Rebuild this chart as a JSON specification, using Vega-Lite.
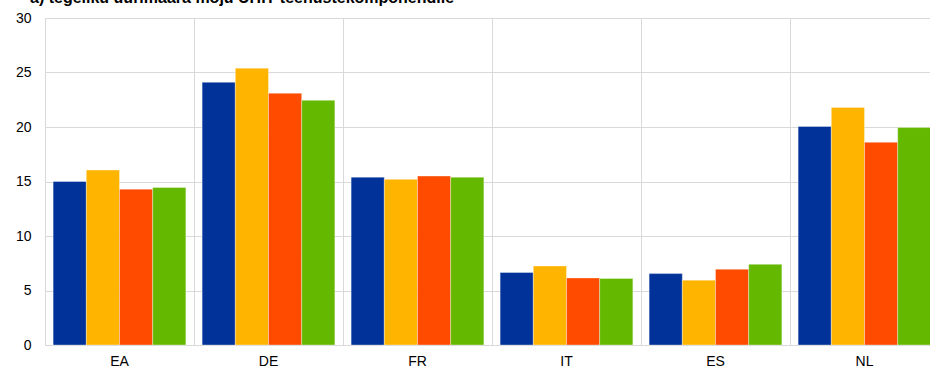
{
  "$schema": "https://vega.github.io/schema/vega-lite/v6.json",
  "autosize": "none",
  "width": 894,
  "height": 327,
  "padding": {"left": 45, "top": 18, "right": 0, "bottom": 24},
  "title": {
    "text": "a) tegeliku üürimäära mõju ÜHIT teenustekomponendile",
    "anchor": "start",
    "frame": "group",
    "dx": -15,
    "offset": 5,
    "font": "Liberation Sans",
    "fontSize": 16,
    "fontWeight": "bold",
    "color": "#000000"
  },
  "data": {
    "values": [
      {"country": "EA", "series": "s1", "value": 15.0},
      {"country": "EA", "series": "s2", "value": 16.05},
      {"country": "EA", "series": "s3", "value": 14.3},
      {"country": "EA", "series": "s4", "value": 14.45},
      {"country": "DE", "series": "s1", "value": 24.1},
      {"country": "DE", "series": "s2", "value": 25.4},
      {"country": "DE", "series": "s3", "value": 23.1},
      {"country": "DE", "series": "s4", "value": 22.45},
      {"country": "FR", "series": "s1", "value": 15.4},
      {"country": "FR", "series": "s2", "value": 15.2},
      {"country": "FR", "series": "s3", "value": 15.5},
      {"country": "FR", "series": "s4", "value": 15.4},
      {"country": "IT", "series": "s1", "value": 6.65},
      {"country": "IT", "series": "s2", "value": 7.25},
      {"country": "IT", "series": "s3", "value": 6.15},
      {"country": "IT", "series": "s4", "value": 6.1},
      {"country": "ES", "series": "s1", "value": 6.55},
      {"country": "ES", "series": "s2", "value": 5.95},
      {"country": "ES", "series": "s3", "value": 6.95},
      {"country": "ES", "series": "s4", "value": 7.4},
      {"country": "NL", "series": "s1", "value": 20.05},
      {"country": "NL", "series": "s2", "value": 21.8},
      {"country": "NL", "series": "s3", "value": 18.6},
      {"country": "NL", "series": "s4", "value": 19.95}
    ]
  },
  "mark": {"type": "bar", "stroke": "#ffffff", "strokeOpacity": 0.35, "strokeWidth": 1},
  "encoding": {
    "x": {
      "field": "country",
      "type": "nominal",
      "sort": ["EA", "DE", "FR", "IT", "ES", "NL"],
      "scale": {"paddingInner": 0, "paddingOuter": 0},
      "axis": {
        "title": null,
        "labelAngle": 0,
        "ticks": false,
        "grid": true,
        "bandPosition": 0,
        "gridColor": "#d9d9d9",
        "domainColor": "#d9d9d9",
        "labelFont": "Liberation Sans",
        "labelFontSize": 14,
        "labelColor": "#000000",
        "labelPadding": 9
      }
    },
    "xOffset": {
      "field": "series",
      "type": "nominal",
      "scale": {"paddingInner": 0, "paddingOuter": 0.245}
    },
    "y": {
      "field": "value",
      "type": "quantitative",
      "scale": {"domain": [0, 30], "nice": false},
      "axis": {
        "title": null,
        "values": [0, 5, 10, 15, 20, 25, 30],
        "ticks": false,
        "gridColor": "#d9d9d9",
        "domainColor": "#d9d9d9",
        "labelFont": "Liberation Sans",
        "labelFontSize": 14,
        "labelColor": "#000000",
        "labelPadding": 14
      }
    },
    "color": {
      "field": "series",
      "type": "nominal",
      "scale": {"domain": ["s1", "s2", "s3", "s4"], "range": ["#003299", "#FFB400", "#FF4B00", "#65B800"]},
      "legend": null
    }
  },
  "config": {
    "view": {"stroke": null},
    "axis": {"gridWidth": 1, "domainWidth": 1}
  }
}
